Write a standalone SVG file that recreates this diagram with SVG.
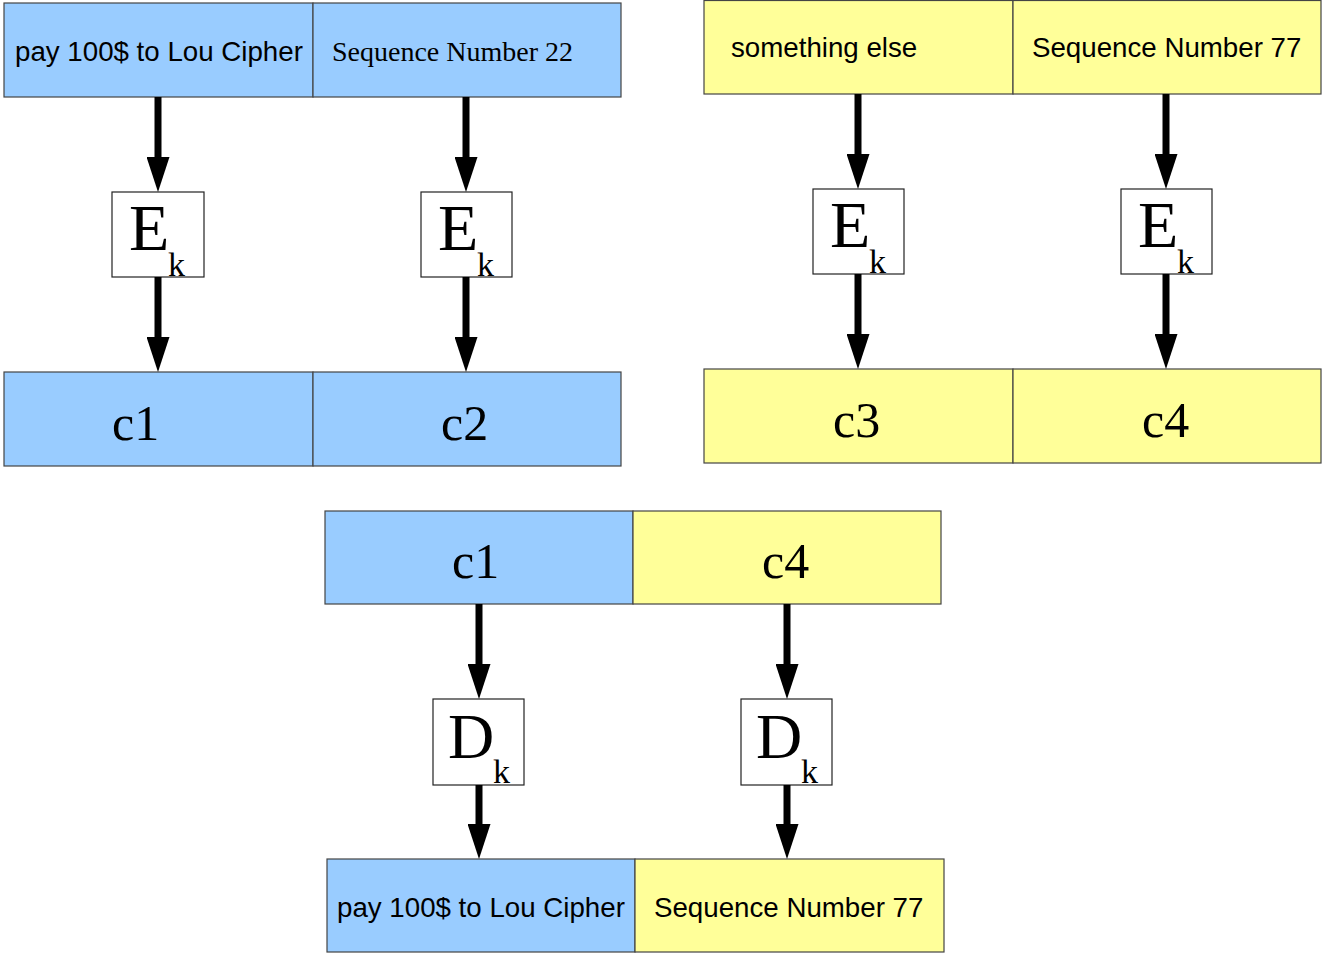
<svg xmlns="http://www.w3.org/2000/svg" width="1322" height="956" viewBox="0 0 1322 956">
  <style>
    .blue { fill: #99ccff; stroke: #444; stroke-width: 1.2; }
    .yellow { fill: #ffff99; stroke: #444; stroke-width: 1.2; }
    .op { fill: #ffffff; stroke: #222; stroke-width: 1.2; }
    .sans { font-family: "Liberation Sans", Arial, sans-serif; font-size: 27.7px; fill: #000; }
    .serif { font-family: "Liberation Serif", "Times New Roman", serif; fill: #000; }
    .seq { font-size: 28px; }
    .cblock { font-size: 50px; }
    .big { font-size: 66px; }
    .bigd { font-size: 64px; }
    .sub { font-size: 34px; }
    .conn line { stroke: #000; stroke-width: 7; marker-end: url(#head); }
  </style>
  <defs>
    <marker id="head" viewBox="0 0 35 23" refX="0" refY="11.5" markerWidth="35" markerHeight="23" markerUnits="userSpaceOnUse" orient="auto">
      <path d="M0,0 L35,11.5 L0,23 z" fill="#000"/>
    </marker>
  </defs>

  <!-- top-left: plaintext blocks -->
  <g id="p1">
    <rect class="blue" x="4" y="3" width="309" height="94"/>
    <text class="sans" x="15" y="61">pay 100$ to Lou Cipher</text>
  </g>
  <g id="p2">
    <rect class="blue" x="313" y="3" width="308" height="94"/>
    <text class="serif seq" x="332" y="61">Sequence Number 22</text>
  </g>
  <g id="enc1">
    <rect class="op" x="112" y="192" width="92" height="85"/>
    <text class="serif big" x="129" y="250">E</text>
    <text class="serif sub" x="168" y="276">k</text>
  </g>
  <g id="enc2">
    <rect class="op" x="421" y="192" width="91" height="85"/>
    <text class="serif big" x="438" y="250">E</text>
    <text class="serif sub" x="477" y="276">k</text>
  </g>
  <g id="c1">
    <rect class="blue" x="4" y="372" width="309" height="94"/>
    <text class="serif cblock" x="112" y="440">c1</text>
  </g>
  <g id="c2">
    <rect class="blue" x="313" y="372" width="308" height="94"/>
    <text class="serif cblock" x="441" y="440">c2</text>
  </g>

  <!-- top-right: second message -->
  <g id="p3">
    <rect class="yellow" x="704" y="0.5" width="309" height="93.5"/>
    <text class="sans" x="731" y="57">something else</text>
  </g>
  <g id="p4">
    <rect class="yellow" x="1013" y="0.5" width="308" height="93.5"/>
    <text class="sans" x="1032" y="57">Sequence Number 77</text>
  </g>
  <g id="enc3">
    <rect class="op" x="813" y="189" width="91" height="85"/>
    <text class="serif big" x="830" y="247">E</text>
    <text class="serif sub" x="869" y="273">k</text>
  </g>
  <g id="enc4">
    <rect class="op" x="1121" y="189" width="91" height="85"/>
    <text class="serif big" x="1138" y="247">E</text>
    <text class="serif sub" x="1177" y="273">k</text>
  </g>
  <g id="c3">
    <rect class="yellow" x="704" y="369" width="309" height="94"/>
    <text class="serif cblock" x="833" y="437">c3</text>
  </g>
  <g id="c4">
    <rect class="yellow" x="1013" y="369" width="308" height="94"/>
    <text class="serif cblock" x="1142" y="437">c4</text>
  </g>

  <!-- bottom: spliced ciphertext and its decryption -->
  <g id="c1b">
    <rect class="blue" x="325" y="511" width="308" height="93"/>
    <text class="serif cblock" x="452" y="578">c1</text>
  </g>
  <g id="c4b">
    <rect class="yellow" x="633" y="511" width="308" height="93"/>
    <text class="serif cblock" x="762" y="578">c4</text>
  </g>
  <g id="dec1">
    <rect class="op" x="433" y="699" width="91" height="86"/>
    <text class="serif bigd" x="448" y="758">D</text>
    <text class="serif sub" x="493" y="783">k</text>
  </g>
  <g id="dec2">
    <rect class="op" x="741" y="699" width="91" height="86"/>
    <text class="serif bigd" x="756" y="758">D</text>
    <text class="serif sub" x="801" y="783">k</text>
  </g>
  <g id="out1">
    <rect class="blue" x="327" y="859" width="308" height="93"/>
    <text class="sans" x="337" y="917">pay 100$ to Lou Cipher</text>
  </g>
  <g id="out2">
    <rect class="yellow" x="635" y="859" width="309" height="93"/>
    <text class="sans" x="654" y="917">Sequence Number 77</text>
  </g>

  <!-- connectors: each line stops where its arrowhead begins -->
  <g id="connectors" class="conn">
    <line x1="158" y1="97" x2="158" y2="157"/>
    <line x1="466" y1="97" x2="466" y2="157"/>
    <line x1="158" y1="277" x2="158" y2="337"/>
    <line x1="466" y1="277" x2="466" y2="337"/>
    <line x1="858" y1="94" x2="858" y2="154"/>
    <line x1="1166" y1="94" x2="1166" y2="154"/>
    <line x1="858" y1="274" x2="858" y2="334"/>
    <line x1="1166" y1="274" x2="1166" y2="334"/>
    <line x1="479" y1="604" x2="479" y2="664"/>
    <line x1="787" y1="604" x2="787" y2="664"/>
    <line x1="479" y1="785" x2="479" y2="824"/>
    <line x1="787" y1="785" x2="787" y2="824"/>
  </g>
</svg>
